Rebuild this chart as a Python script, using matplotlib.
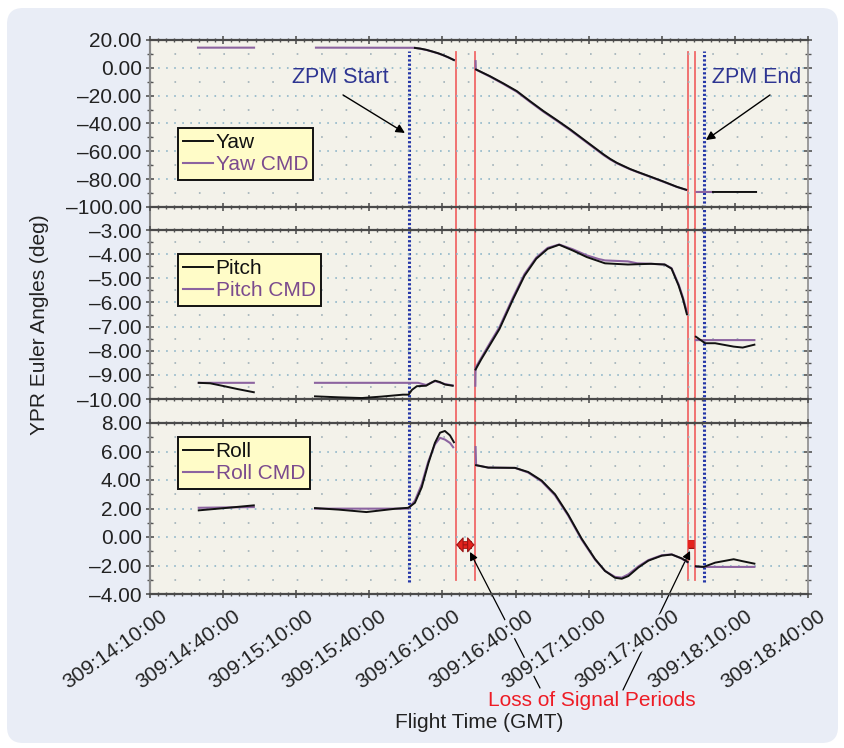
import numpy as np
import matplotlib
matplotlib.use('Agg')
import matplotlib.pyplot as plt
from matplotlib.patches import FancyBboxPatch
from matplotlib.ticker import MultipleLocator, FuncFormatter
import matplotlib.transforms as mtransforms
import matplotlib.patheffects as pe

plt.rcParams['font.family'] = ['Liberation Sans', 'DejaVu Sans']
plt.rcParams['lines.scale_dashes'] = False

nan = np.nan

# ---- axis data (time in minutes after 309:14:10:00) ----
x_ticks = [0, 30, 60, 90, 120, 150, 180, 210, 240, 270]
x_tick_labels = ['309:14:10:00', '309:14:40:00', '309:15:10:00', '309:15:40:00',
                 '309:16:10:00', '309:16:40:00', '309:17:10:00', '309:17:40:00',
                 '309:18:10:00', '309:18:40:00']

zpm_start = 106.1
zpm_end = 227.4
los_lines = [125.4, 133.4, 220.6, 223.6]

# ---- Yaw ----
yaw_t = [108.7, 111.0, 113.5, 116.1, 118.2, 120.2, 122.5, 124.7, nan,
         133.8, 139.5, 145.0, 150.5, 155.9, 161.4, 166.9, 172.4, 177.8, 183.3,
         186.2, 188.8, 191.5, 194.3, 197.0, 199.8, 205.2, 210.7, 216.2, 220.0, nan,
         231.0, 248.7]
yaw = [14.3, 13.8, 12.9, 11.6, 10.5, 9.2, 7.5, 5.6, nan,
       -1.2, -6.0, -11.2, -16.7, -23.9, -31.0, -37.5, -44.2, -51.3, -58.5,
       -62.3, -65.4, -68.2, -70.5, -72.7, -74.6, -78.1, -81.7, -85.5, -87.6, nan,
       -89.2, -89.2]
yaw_cmd_t = [19.7, 42.7, nan, 68.1, 108.7, 111.0, 113.5, 116.1, 118.2, 120.2, 122.5, 124.7, nan,
             133.6, 133.7, 139.5, 145.0, 150.5, 155.9, 161.4, 166.9, 172.4, 177.8, 183.3,
             186.2, 188.8, 191.5, 194.3, 197.0, 199.8, 205.2, 210.7, 216.2, 220.0, nan,
             224.3, 231.0]
yaw_cmd = [14.5, 14.5, nan, 14.5, 14.4, 13.7, 12.8, 11.5, 10.4, 9.1, 7.4, 5.6, nan,
           4.8, -1.2, -6.3, -11.6, -17.2, -24.4, -31.5, -38.0, -44.7, -51.8, -59.0,
           -62.8, -65.8, -68.5, -70.8, -72.9, -74.8, -78.3, -81.9, -85.6, -87.7, nan,
           -89.2, -89.2]

# ---- Pitch ----
pitch_t = [20.0, 24.7, 30.0, 36.0, 42.6, nan,
           67.7, 77.5, 86.9, 95.0, 103.8, 106.1, 107.5, 109.5, 113.3, 115.5, 117.0, 119.0, 121.0, 124.2, nan,
           133.6, 135.9, 139.6, 143.4, 149.0, 153.7, 158.5, 163.2, 167.9, 173.5, 179.2, 186.7,
           196.1, 205.6, 211.2, 214.0, 216.9, 218.7, 220.3, nan,
           224.0, 227.8, 231.9, 239.5, 243.2, 248.0]
pitch = [-9.33, -9.35, -9.46, -9.59, -9.72, nan,
         -9.89, -9.93, -9.96, -9.90, -9.82, -9.82, -9.62, -9.47, -9.45, -9.32, -9.24, -9.30, -9.40, -9.45, nan,
         -8.78, -8.36, -7.74, -7.10, -5.86, -4.89, -4.19, -3.78, -3.61, -3.85, -4.12, -4.38,
         -4.43, -4.40, -4.43, -4.60, -5.30, -5.86, -6.49, nan,
         -7.42, -7.69, -7.69, -7.83, -7.87, -7.75]
pitch_cmd_t = [20.0, 42.6, nan,
               67.7, 110.0, 113.3, 117.0, 121.0, 124.2, nan,
               133.5, 133.6, 135.9, 139.6, 143.4, 149.0, 153.7, 158.5, 163.2, 167.9, 173.5, 179.2,
               184.0, 186.7, 196.1, 199.9, 205.6, 211.2, 214.0, 216.9, 218.7, 220.3, nan,
               224.0, 248.0]
pitch_cmd = [-9.33, -9.33, nan,
             -9.33, -9.33, -9.42, -9.26, -9.38, -9.44, nan,
             -9.45, -8.70, -8.30, -7.66, -7.02, -5.78, -4.82, -4.14, -3.74, -3.60, -3.80, -4.05,
             -4.20, -4.26, -4.30, -4.38, -4.40, -4.43, -4.58, -5.25, -5.80, -6.40, nan,
             -7.56, -7.56]

# ---- Roll ----
roll_t = [20.0, 30.0, 42.6, nan,
          67.7, 77.5, 88.8, 100.5, 106.0, 108.7, 111.5, 114.2, 116.9, 119.0, 121.0, 123.1, 124.7, nan,
          133.8, 138.8, 149.8, 155.2, 160.7, 166.2, 171.6, 177.1, 182.6, 186.7, 190.8, 193.6,
          196.3, 200.4, 204.5, 210.0, 214.1, 218.2, 220.6, nan,
          224.0, 227.2, 231.9, 239.5, 243.2, 248.0]
roll = [1.87, 2.02, 2.22, nan,
        2.03, 1.92, 1.75, 1.98, 2.05, 2.40, 3.49, 5.16, 6.60, 7.32, 7.44, 7.13, 6.65, nan,
        5.04, 4.87, 4.85, 4.56, 3.96, 3.00, 1.57, -0.11, -1.54, -2.38, -2.86, -2.93,
        -2.74, -2.14, -1.66, -1.31, -1.23, -1.50, -1.75, nan,
        -2.05, -2.10, -1.80, -1.56, -1.70, -1.87]
roll_cmd_t = [20.0, 42.6, nan,
              67.7, 106.0, 108.7, 111.5, 114.2, 116.9, 119.0, 121.0, 123.1, 124.4, nan,
              133.6, 133.8, 138.8, 149.8, 155.2, 160.7, 166.2, 171.6, 177.1, 182.6, 186.7, 190.8, 193.6,
              196.3, 200.4, 204.5, 210.0, 214.1, 218.2, 220.6, nan,
              224.0, 248.0]
roll_cmd = [2.05, 2.10, nan,
            1.99, 1.99, 2.55, 3.70, 5.30, 6.50, 6.96, 6.84, 6.60, 6.30, nan,
            6.31, 5.04, 4.87, 4.85, 4.52, 3.90, 2.92, 1.50, -0.18, -1.58, -2.38, -2.80, -2.85,
            -2.62, -2.06, -1.62, -1.28, -1.22, -1.52, -1.78, nan,
            -2.10, -2.10]

# ---- styles ----
FIG_BG = '#ffffff'
PANEL_BG = '#e9edf6'
PLOT_BG = '#f3f2ea'
BLACK = '#111111'
PURPLE = '#8c64a0'
PURPLE_TXT = '#7b4b8e'
RED = '#f06868'
BLUE = '#2537a8'
TXT = '#222222'
FS = 15

W, H = 844, 748
fig = plt.figure(figsize=(W / 100, H / 100), dpi=100, facecolor=FIG_BG)
fig.add_artist(FancyBboxPatch((7, 5), 831, 735, boxstyle='round,pad=0,rounding_size=16',
                              transform=mtransforms.IdentityTransform(),
                              facecolor=PANEL_BG, edgecolor='none', zorder=-10))

def frac_box(x0, y0, x1, y1):
    return [x0 / W, 1 - y1 / H, (x1 - x0) / W, (y1 - y0) / H]

XL, XR = 150, 808
bg = fig.add_axes(frac_box(XL, 40, XR, 594), zorder=0)
bg.set_facecolor(PLOT_BG)
bg.set_xlim(0, 270)
bg.set_ylim(0, 1)
bg.set_xticks([]); bg.set_yticks([])
for s in ['top', 'bottom']:
    bg.spines[s].set_visible(False)
bg.spines['left'].set_color('#8a8a8a'); bg.spines['left'].set_linewidth(1.5)
bg.spines['right'].set_color('#9a9a9a'); bg.spines['right'].set_linewidth(1.2)
for xv in los_lines:
    bg.axvline(xv, ymin=0.025, ymax=0.978, color=RED, lw=1.3, zorder=5)
for xv in [zpm_start, zpm_end]:
    bg.axvline(xv, ymin=0.021, ymax=0.98, color=BLUE, lw=2.2, linestyle=(0, (1.6, 1.5)), zorder=6)

panels = [
    (40, 207, (-100, 20), 20, 10),
    (230, 399, (-10, -3), 1, 0.5),
    (423, 594, (-4, 8), 2, 1),
]
axes = []
fmt = FuncFormatter(lambda v, p: f"{v:.2f}".replace('-', '\u2013'))
for (y0, y1, ylim, maj, mnr) in panels:
    ax = fig.add_axes(frac_box(XL, y0, XR, y1), zorder=1)
    ax.set_facecolor('none')
    ax.set_xlim(0, 270)
    ax.set_ylim(*ylim)
    ax.xaxis.set_major_locator(MultipleLocator(30))
    ax.xaxis.set_minor_locator(MultipleLocator(30 / 9))
    ax.yaxis.set_major_locator(MultipleLocator(maj))
    ax.yaxis.set_minor_locator(MultipleLocator(mnr))
    ax.yaxis.set_major_formatter(fmt)
    ax.tick_params(axis='x', which='both', direction='inout', top=True, bottom=True,
                   labelbottom=False, color='#555555')
    ax.tick_params(axis='x', which='major', length=6, width=1.2)
    ax.tick_params(axis='x', which='minor', length=3.5, width=1.0)
    ax.tick_params(axis='y', which='both', direction='inout', left=True, right=True,
                   color='#555555', labelsize=FS, labelcolor=TXT, pad=3)
    ax.tick_params(axis='y', which='major', length=6, width=1.2)
    ax.tick_params(axis='y', which='minor', length=4, width=1.0)
    for s in ['top', 'bottom']:
        ax.spines[s].set_color('#4a4a4a'); ax.spines[s].set_linewidth(1.6)
    ax.spines['left'].set_color('#8a8a8a'); ax.spines['left'].set_linewidth(1.5)
    ax.spines['right'].set_color('#9a9a9a'); ax.spines['right'].set_linewidth(1.2)
    lo, hi = ylim
    for v in np.arange(lo + maj, hi, maj):
        ax.axhline(v, color='#8fb6c9', lw=1.2, linestyle=(0, (1.2, 4.6)), zorder=0.5)
    for v in np.arange(lo + mnr, hi, maj):
        ax.axhline(v, color='#9fb0b8', lw=1.2, linestyle=(0, (1.2, 16.4)), zorder=0.5)
    axes.append(ax)

ax1, ax2, ax3 = axes

def draw(ax, t, v, tc, vc, name):
    ax.plot(tc, vc, color=PURPLE, lw=1.5, zorder=2, label=name + ' CMD')
    ax.plot(t, v, color=BLACK, lw=1.4, zorder=3, label=name)
    h, l = ax.get_legend_handles_labels()
    leg_y = {'Yaw': (207 - 128) / 167, 'Pitch': (399 - 254) / 169, 'Roll': (594 - 437) / 171}[name]
    leg = ax.legend([h[1], h[0]], [l[1], l[0]], loc='upper left',
                    bbox_to_anchor=((178 - 150) / 658, leg_y), borderaxespad=0,
                    fontsize=FS, fancybox=False, framealpha=1, facecolor='#fffcc8',
                    edgecolor='#111111', handlelength=1.45, handletextpad=0.1,
                    borderpad=0.25, labelspacing=0.15)
    leg.get_frame().set_linewidth(1.4)
    leg.get_texts()[0].set_color(BLACK)
    leg.get_texts()[1].set_color(PURPLE_TXT)
    leg.set_zorder(10)

draw(ax1, yaw_t, yaw, yaw_cmd_t, yaw_cmd, 'Yaw')
draw(ax2, pitch_t, pitch, pitch_cmd_t, pitch_cmd, 'Pitch')
draw(ax3, roll_t, roll, roll_cmd_t, roll_cmd, 'Roll')

# ZPM annotations
ax1.text(78.0, -6.6, 'ZPM Start', color='#2e3592', fontsize=FS + 0.5, ha='center', va='center')
ax1.annotate('', xy=(104.6, -46.8), xytext=(79.2, -19.5),
             arrowprops=dict(arrowstyle='-|>', color='black', lw=1.0, mutation_scale=13,
                             shrinkA=0, shrinkB=0))
ax1.text(249.1, -6.6, 'ZPM End', color='#2e3592', fontsize=FS + 0.5, ha='center', va='center')
ax1.annotate('', xy=(228.1, -51.9), xytext=(254.4, -19.5),
             arrowprops=dict(arrowstyle='-|>', color='black', lw=1.0, mutation_scale=13,
                             shrinkA=0, shrinkB=0))

# Loss of signal markers
LRED = '#e5231d'
DRED = '#9a1414'
ax3.plot([126.8, 132.0], [-0.55, -0.55], color=LRED, lw=4.4, solid_capstyle='butt', zorder=7,
         path_effects=[pe.Stroke(linewidth=5.6, foreground=DRED), pe.Normal()])
ax3.annotate('', xy=(125.6, -0.55), xytext=(133.2, -0.55),
             arrowprops=dict(arrowstyle='<|-|>,head_length=0.45,head_width=0.5', lw=0.8,
                             fc=LRED, ec=DRED, shrinkA=0, shrinkB=0, mutation_scale=10),
             zorder=8)
ax3.plot([220.8, 223.4], [-0.5, -0.5], color=LRED, lw=5.5, solid_capstyle='butt', zorder=7,
         path_effects=[pe.Stroke(linewidth=6.5, foreground=DRED), pe.Normal()])

ax3.annotate('', xy=(131.3, -1.05), xytext=(540 / W, 1 - 688 / H), textcoords='figure fraction',
             arrowprops=dict(arrowstyle='-|>', color='black', lw=0.9, mutation_scale=12,
                             shrinkA=0, shrinkB=0), zorder=1, annotation_clip=False)
ax3.annotate('', xy=(221.6, -0.98), xytext=(623 / W, 1 - 690 / H), textcoords='figure fraction',
             arrowprops=dict(arrowstyle='-|>', color='black', lw=0.9, mutation_scale=12,
                             shrinkA=0, shrinkB=0), zorder=1, annotation_clip=False)

# bottom tick labels
ax3.set_xticks(x_ticks)
ax3.set_xticklabels(x_tick_labels)
ax3.tick_params(axis='x', which='major', labelbottom=True, labelsize=FS, labelcolor=TXT, pad=6)
offset = mtransforms.ScaledTranslation(10 / 100, 0, fig.dpi_scale_trans)
for lab in ax3.get_xticklabels():
    lab.set_rotation(35)
    lab.set_ha('right')
    lab.set_va('top')
    lab.set_rotation_mode('anchor')
    lab.set_transform(lab.get_transform() + offset)
    lab.set_bbox(dict(facecolor=PANEL_BG, edgecolor='none', pad=0.5))

fig.text(592 / W, 1 - 700 / H, 'Loss of Signal Periods', color='#ee1c25', fontsize=FS,
         ha='center', va='center')
fig.text(479 / W, 1 - 722 / H, 'Flight Time (GMT)', color=TXT, fontsize=FS,
         ha='center', va='center')
fig.text(40 / W, 1 - 325 / H, 'YPR Euler Angles (deg)', color=TXT, fontsize=FS,
         ha='center', va='center', rotation=90)

fig.savefig('out.png', dpi=100, facecolor=FIG_BG)
